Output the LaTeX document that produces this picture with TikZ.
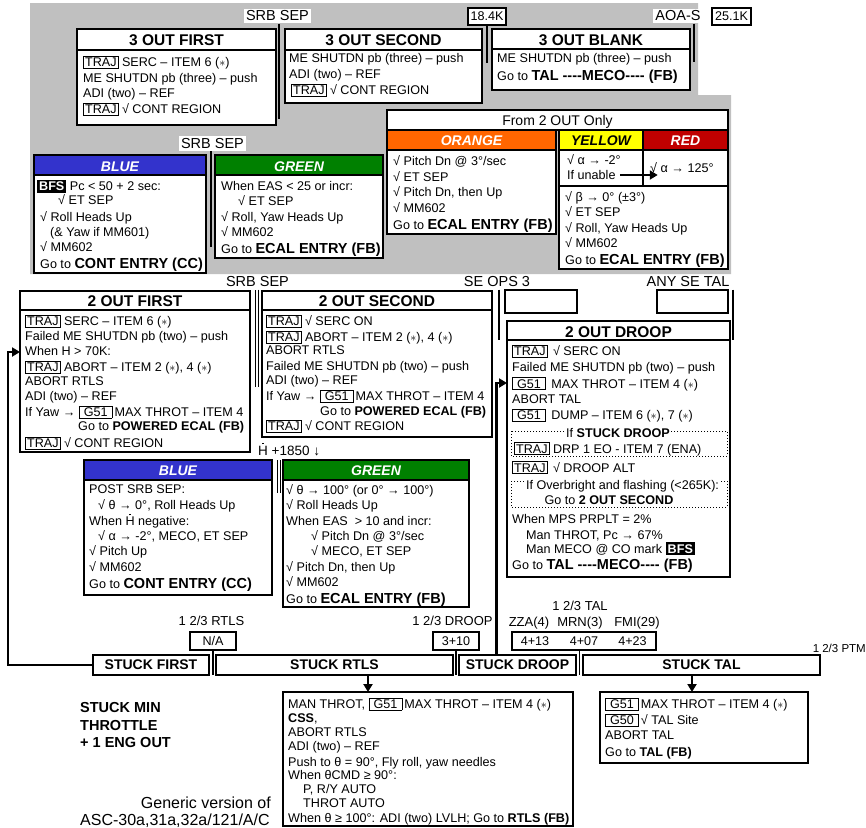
\documentclass[tikz,border=0pt]{standalone}
\usepackage{fontspec}
\setmainfont{Liberation Sans}
\usetikzlibrary{arrows.meta}
\definecolor{gbg}{RGB}{192,192,192}
\definecolor{cblue}{RGB}{51,51,204}
\definecolor{cgreen}{RGB}{0,128,0}
\definecolor{corange}{RGB}{255,102,0}
\definecolor{cred}{RGB}{192,0,0}
\definecolor{cyel}{RGB}{255,255,0}
\newcommand\ttag[1]{{\setlength\fboxsep{1.1pt}\setlength\fboxrule{0.8pt}\fbox{#1}}}
\newcommand\gtag[1]{\ttag{\hspace{3pt}#1\hspace{3pt}}}
\newcommand\bfsb{{\setlength\fboxsep{2pt}\colorbox{black}{\textcolor{white}{\bfseries BFS}}}}
\newcommand\astk{$\ast$}
\newcommand\gb[1]{{\fontsize{14.5}{15}\selectfont\bfseries #1}}
\newcommand\dsh{-{}-{}-{}-}
\newcommand\Hdot{\ooalign{H\cr\hfil\raisebox{0.8em}[0pt][0pt]{\rule{1.5pt}{1.5pt}}\hfil\cr}}
\newcounter{ln}
\newcommand\putl[3]{\stepcounter{ln}\node[txt] (ln\arabic{ln}) at (#1,#2) {#3};}
\newcommand\bxx[6][]{\node[bx,#1,minimum width={#5-#3},minimum height={#6-#4}] (#2) at (#3,#4) {};}
\newcommand\hsepl[2]{\draw[bl] (#1.west |- 0,#2) -- (#1.east |- 0,#2);}
\begin{document}
\begin{tikzpicture}[x=1pt,y=-1pt,
 bl/.style={line width=1.8pt},
 bx/.style={draw, line width=1.8pt, fill=white, anchor=north west, inner sep=0pt, outer sep=0pt},
 txt/.style={anchor=base west, inner sep=0pt, font=\fontsize{12.6}{15}\selectfont},
 ctxt/.style={anchor=base, inner sep=0pt, font=\fontsize{12.6}{15}\selectfont},
 ttl/.style={anchor=base, inner sep=0pt, font=\fontsize{15.5}{18}\selectfont\bfseries},
 hdr/.style={anchor=base, inner sep=0pt, font=\fontsize{14}{16}\selectfont\bfseries\itshape, text=white},
 lbl/.style={fill=white, inner sep=2.2pt, font=\fontsize{14.5}{17}\selectfont},
 blab/.style={anchor=base, inner sep=0pt, font=\fontsize{13}{15}\selectfont},
 kbox/.style={draw, line width=1.4pt, fill=white, inner sep=0pt, outer sep=0pt, font=\fontsize{12.6}{15}\selectfont},
 stkb/.style={draw, line width=1.8pt, fill=white, inner sep=0pt, outer sep=0pt, anchor=north west, minimum height=20, font=\fontsize{14}{16}\selectfont\bfseries},
 conn/.style={line width=2.8pt},
 sepl/.style={line width=2.2pt},
 dsep/.style={double, double distance=2pt, line width=1pt},
 dotbox/.style={dotted, line width=1pt},
 tip/.style={-{Triangle[length=8pt,width=9pt]}},
 hdrfill/.style={path picture={\fill[#1] (path picture bounding box.north west) rectangle ([yshift=-20pt]path picture bounding box.north east);}}
]
\useasboundingbox (0,0) rectangle (866,827);
% gray background
\fill[gbg] (30,3) -- (698,3) -- (698,95) -- (731,95) -- (731,274) -- (30,274) -- cycle;

% top labels
\node[lbl] (ssep1) at (277.5,16) {SRB SEP};
\node[kbox, minimum width=38, minimum height=17] (k184) at (487,16.5) {18.4K};
\node[lbl] (aoa) at (678,16) {AOA-S};
\node[kbox, minimum width=39, minimum height=17] (k251) at (731.5,16.5) {25.1K};
\draw[sepl] (ssep1.south -| 279,0) -- ++(0,95);
\draw[sepl] (k184.south) -- ++(0,38);
\draw[sepl] (aoa.south -| 694,0) -- ++(0,38);

% 3 OUT FIRST
\bxx{b3f}{77}{29}{276}{125}
\hsepl{b3f}{50}
\node[ttl] (b3ft) at (176.5,45.5) {3 OUT FIRST};
\putl{83}{66.5}{\ttag{TRAJ} SERC – ITEM 6 (\astk)}
\putl{83}{82.5}{ME SHUTDN pb (three) – push}
\putl{83}{97.5}{ADI (two) – REF}
\putl{83}{113.5}{\ttag{TRAJ} √ CONT REGION}

% 3 OUT SECOND
\bxx{b3s}{285}{29}{482}{103}
\hsepl{b3s}{50}
\node[ttl] (b3st) at (383.5,45.5) {3 OUT SECOND};
\putl{289}{62.5}{ME SHUTDN pb (three) – push}
\putl{289}{78.5}{ADI (two) – REF}
\putl{291}{94.5}{\ttag{TRAJ} √ CONT REGION}

% 3 OUT BLANK
\bxx{b3b}{492}{29}{690}{90}
\hsepl{b3b}{49}
\node[ttl] (b3bt) at (591,45) {3 OUT BLANK};
\putl{497}{62.5}{ME SHUTDN pb (three) – push}
\putl{497}{80.5}{Go to \gb{TAL \dsh MECO\dsh\ (FB)}}

% BLUE / GREEN top
\node[lbl] (ssep2) at (212.5,143.5) {SRB SEP};
\draw[sepl] (ssep2.south -| 211,0) -- ++(0,96);
\bxx[hdrfill=cblue]{bbl1}{34}{155}{206}{273}
\hsepl{bbl1}{175}
\node[hdr] (bbl1t) at (120,171) {BLUE};
\putl{37}{190.5}{\bfsb\ Pc < 50 + 2 sec:}
\putl{58}{204.5}{√ ET SEP}
\putl{40}{221.5}{√ Roll Heads Up}
\putl{50}{236.5}{(\& Yaw if MM601)}
\putl{40}{251.5}{√ MM602}
\putl{40}{268}{Go to \gb{CONT ENTRY (CC)}}

\bxx[hdrfill=cgreen]{bgr1}{215}{155}{383}{258}
\hsepl{bgr1}{175}
\node[hdr] (bgr1t) at (299,171) {GREEN};
\putl{221}{190.5}{When EAS < 25 or incr:}
\putl{238}{205}{√ ET SEP}
\putl{221}{221.5}{√ Roll, Yaw Heads Up}
\putl{221}{236.5}{√ MM602}
\putl{221}{253}{Go to \gb{ECAL ENTRY (FB)}}

% From 2 OUT Only
\node[bx, line width=1.4pt, minimum width=341, minimum height=20] (bfrom) at (387,110) {};
\node[ctxt, font=\fontsize{14}{16}\selectfont] (bfromt) at (557.5,125) {From 2 OUT Only};

% ORANGE
\bxx[hdrfill=corange]{bor}{387}{130}{556}{234}
\hsepl{bor}{150}
\node[hdr] (bort) at (471.5,145.5) {ORANGE};
\putl{393}{165.5}{√ Pitch Dn @ 3°/sec}
\putl{393}{181.5}{√ ET SEP}
\putl{393}{196.5}{√ Pitch Dn, then Up}
\putl{393}{212.5}{√ MM602}
\putl{393}{229}{Go to \gb{ECAL ENTRY (FB)}}

% YELLOW / RED
\bxx{byr}{559}{130}{728}{269}
\fill[cyel] (559,130) rectangle (643,150);
\fill[cred] (643,130) rectangle (728,150);
\draw[bl] (byr.north west) rectangle (byr.south east);
\hsepl{byr}{150}
\hsepl{byr}{186}
\draw[bl] (643,130) -- (643,186);
\node[hdr, text=black] (bylt) at (601,145.5) {YELLOW};
\node[hdr] (brdt) at (685.5,145.5) {RED};
\putl{567}{164.5}{√ α → -2°}
\node[txt] (unable) at (567,179.5) {If unable};
\node[txt] (redtx) at (650,172.5) {√ α → 125°};
\draw[conn,tip] ([xshift=4pt]unable.east) -- ([xshift=42pt]unable.east);
\putl{565}{201.5}{√ β → 0° (±3°)}
\putl{565}{216.5}{√ ET SEP}
\putl{565}{232.5}{√ Roll, Yaw Heads Up}
\putl{565}{247.5}{√ MM602}
\putl{565}{264}{Go to \gb{ECAL ENTRY (FB)}}

% bottom section labels
\node[lbl] (ssep3) at (257.5,282) {SRB SEP};
\node[lbl] (seops) at (497,282) {SE OPS 3};
\node[lbl] (anyse) at (688,282) {ANY SE TAL};
\draw[dsep] (ssep3.south -| 256.5,0) -- (256.5,387);
\draw[sepl] (seops.south -| 499,0) -- (499,340);
\node[bx, line width=1.4pt, minimum width=72, minimum height=23] (eb1) at (505,290) {};
\node[bx, line width=1.4pt, minimum width=71, minimum height=23] (eb2) at (657,290) {};
\draw[sepl] (anyse.south -| 733,0) -- (733,340);

% 2 OUT FIRST
\bxx{b2f}{20}{291}{250}{452}
\hsepl{b2f}{310}
\node[ttl] (b2ft) at (135,306.5) {2 OUT FIRST};
\putl{25}{325.5}{\ttag{TRAJ} SERC – ITEM 6 (\astk)}
\putl{25}{340.5}{Failed ME SHUTDN pb (two) – push}
\putl{25}{355.5}{When H > 70K:}
\putl{25}{371.5}{\ttag{TRAJ} ABORT – ITEM 2 (\astk), 4 (\astk)}
\putl{25}{385.5}{ABORT RTLS}
\putl{25}{400.5}{ADI (two) – REF}
\putl{25}{416.5}{If Yaw → \gtag{G51}\,MAX THROT – ITEM 4}
\putl{78}{430.5}{Go to \textbf{POWERED ECAL (FB)}}
\putl{25}{447.5}{\ttag{TRAJ} √ CONT REGION}

% 2 OUT SECOND
\bxx{b2s}{262}{291}{492}{437}
\hsepl{b2s}{310}
\node[ttl] (b2st) at (377,306.5) {2 OUT SECOND};
\putl{266}{325.5}{\ttag{TRAJ} √ SERC ON}
\putl{266}{341.5}{\ttag{TRAJ} ABORT – ITEM 2 (\astk), 4 (\astk)}
\putl{266}{354.5}{ABORT RTLS}
\putl{266}{370.5}{Failed ME SHUTDN pb (two) – push}
\putl{266}{384.5}{ADI (two) – REF}
\putl{266}{400.5}{If Yaw → \gtag{G51}\,MAX THROT – ITEM 4}
\putl{320}{415.5}{Go to \textbf{POWERED ECAL (FB)}}
\putl{266}{430.5}{\ttag{TRAJ} √ CONT REGION}

\node[txt, font=\fontsize{13.5}{15}\selectfont] (hdl) at (258,455) {\Hdot\ +1850 ↓};
\draw[dsep] (279,460) -- (279,493);

% BLUE 2
\bxx[hdrfill=cblue]{bbl2}{84}{460}{272}{595}
\hsepl{bbl2}{480}
\node[hdr] (bbl2t) at (178,475.5) {BLUE};
\putl{89}{493.5}{POST SRB SEP:}
\putl{98}{509.5}{√ θ → 0°, Roll Heads Up}
\putl{89}{525.5}{When \Hdot\ negative:}
\putl{98}{540.5}{√ α → -2°, MECO, ET SEP}
\putl{89}{555.5}{√ Pitch Up}
\putl{89}{571.5}{√ MM602}
\putl{89}{588}{Go to \gb{CONT ENTRY (CC)}}

% GREEN 2
\bxx[hdrfill=cgreen]{bgr2}{283}{460}{469}{607}
\hsepl{bgr2}{480}
\node[hdr] (bgr2t) at (376,475.5) {GREEN};
\putl{286}{494.5}{√ θ → 100° (or 0° → 100°)}
\putl{286}{509.5}{√ Roll Heads Up}
\putl{286}{525}{When EAS \ > 10 and incr:}
\putl{311}{540.5}{√ Pitch Dn @ 3°/sec}
\putl{311}{555.5}{√ MECO, ET SEP}
\putl{286}{571.5}{√ Pitch Dn, then Up}
\putl{286}{586.5}{√ MM602}
\putl{286}{603}{Go to \gb{ECAL ENTRY (FB)}}

% 2 OUT DROOP
\bxx{b2d}{507}{321}{730}{577}
\hsepl{b2d}{340}
\node[ttl] (b2dt) at (618.5,337) {2 OUT DROOP};
\putl{512}{355.5}{\ttag{TRAJ}\hspace{2pt} √ SERC ON}
\putl{512}{371}{Failed ME SHUTDN pb (two) – push}
\putl{512}{388}{\gtag{G51}\hspace{2pt} MAX THROT – ITEM 4 (\astk)}
\putl{512}{403}{ABORT TAL}
\putl{512}{419.5}{\gtag{G51}\hspace{2pt} DUMP – ITEM 6 (\astk), 7 (\astk)}
\draw[dotbox] (511,431) rectangle (727,456);
\node[ctxt, fill=white, inner sep=1.5pt] (stkdr) at (618,437) {If \textbf{STUCK DROOP}};
\putl{514}{453}{\ttag{TRAJ} DRP 1 EO - ITEM 7 (ENA)}
\putl{512}{472}{\ttag{TRAJ}\hspace{2pt} √ DROOP ALT}
\draw[dotbox] (511,481) rectangle (727,507);
\node[ctxt, fill=white, inner sep=1pt] (ovbr) at (622.5,489.5) {If Overbright and flashing (<265K):};
\node[ctxt] (go2s) at (609,504.5) {Go to \textbf{2 OUT SECOND}};
\putl{512}{523}{When MPS PRPLT = 2\%}
\putl{526}{539}{Man THROT, Pc → 67\%}
\putl{526}{553}{Man MECO @ CO mark \bfsb}
\putl{512}{569.5}{Go to \gb{TAL \dsh MECO\dsh\ (FB)}}

% bottom labels
\node[blab] (r123) at (211.5,625) {1 2/3 RTLS};
\node[blab] (d123) at (452.5,625) {1 2/3 DROOP};
\node[blab] (t123) at (580,610.5) {1 2/3 TAL};
\node[blab] (zza) at (529,626) {ZZA(4)};
\node[blab] (mrn) at (580,626) {MRN(3)};
\node[blab] (fmi) at (637,626) {FMI(29)};
\node[anchor=base east, inner sep=0pt, font=\fontsize{11.5}{13}\selectfont] (ptm) at (866,652.5) {1 2/3 PTM};
\node[kbox, anchor=north west, minimum width=46, minimum height=18] (na) at (190,632) {N/A};
\node[kbox, anchor=north west, minimum width=46, minimum height=18] (d310) at (433,632) {3+10};
\node[kbox, anchor=north west, minimum width=144, minimum height=18] (tal3) at (512,632) {};
\node[ctxt] (n1) at (535,645) {4+13};
\node[ctxt] (n2) at (584,645) {4+07};
\node[ctxt] (n3) at (632.5,645) {4+23};

% stuck boxes
\node[stkb, minimum width=116] (sf) at (93,655) {STUCK FIRST};
\node[stkb, minimum width=237] (sr) at (216,655) {STUCK RTLS};
\node[stkb, minimum width=117] (sd) at (459,655) {STUCK DROOP};
\node[stkb, minimum width=237] (st) at (583,655) {STUCK TAL};
\draw[bl] (na.south) -- (na.south |- sf.south);
\draw[bl] (d310.south) -- (d310.south |- sd.south);
\draw[bl] (tal3.south -| 579.5,0) -- (sd.south -| 579.5,0);

% main connectors
\draw[conn,tip] (sf.west) -- ++(-85,0) |- (b2f.west |- 0,352);
\draw[conn,tip] (sd.north -| 496.5,0) |- (b2d.west |- 0,383);

% RTLS details
\bxx{brt}{283}{692}{573}{826}
\draw[conn,tip] (sr.south -| 368,0) -- (brt.north -| 368,0);
\putl{288}{708.5}{MAN THROT, \gtag{G51}\,MAX THROT – ITEM 4 (\astk)}
\putl{288}{722.5}{\textbf{CSS},}
\putl{288}{736}{ABORT RTLS}
\putl{288}{750.5}{ADI (two) – REF}
\putl{288}{766}{Push to θ = 90°, Fly roll, yaw needles}
\putl{288}{779.5}{When θCMD ≥ 90°:}
\putl{303}{793.5}{P, R/Y AUTO}
\putl{303}{807.5}{THROT AUTO}
\putl{288}{822.5}{When θ ≥ 100°: ADI (two) LVLH; Go to \textbf{RTLS (FB)}}

% TAL details
\bxx{btal}{600}{692}{808}{763}
\draw[conn,tip] (st.south -| 692,0) -- (btal.north -| 692,0);
\putl{605}{708.5}{\gtag{G51}\,MAX THROT – ITEM 4 (\astk)}
\putl{605}{724.5}{\gtag{G50}\,√ TAL Site}
\putl{605}{739.5}{ABORT TAL}
\putl{605}{756}{Go to \textbf{TAL (FB)}}

% side texts
\node[txt, font=\fontsize{14.5}{18}\selectfont\bfseries] (sm1) at (80,712) {STUCK MIN};
\node[txt, font=\fontsize{14.5}{18}\selectfont\bfseries] (sm2) at (80,730) {THROTTLE};
\node[txt, font=\fontsize{14.5}{18}\selectfont\bfseries] (sm3) at (80,747.5) {+ 1 ENG OUT};
\node[anchor=base east, inner sep=0pt, font=\fontsize{16}{18}\selectfont] (gen1) at (271,808.5) {Generic version of};
\node[anchor=base west, inner sep=0pt, font=\fontsize{16}{18}\selectfont] (gen2) at (80,825) {ASC-30a,31a,32a/121/A/C};
\end{tikzpicture}
\end{document}
